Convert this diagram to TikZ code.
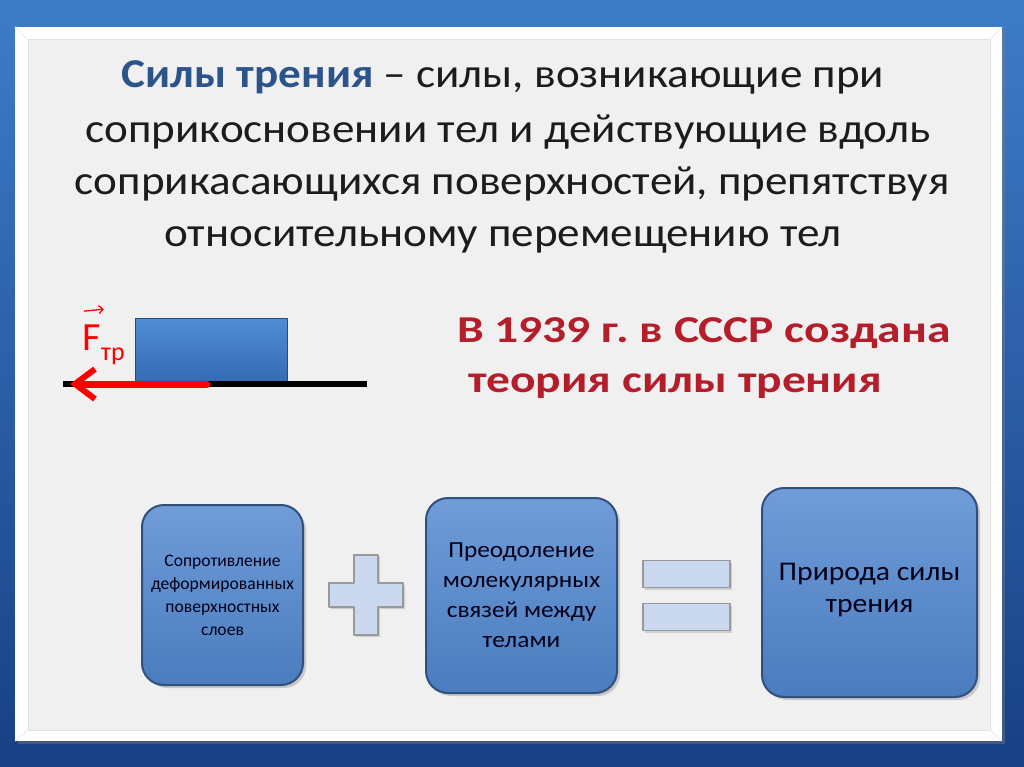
\documentclass[tikz,border=0pt]{standalone}
\usepackage{fontspec}
\setmainfont{Carlito}[FakeStretch=1.1]
\newfontfamily\notefont{Carlito}[FakeStretch=1.25]
\newfontfamily\plainfont{Carlito}
\usetikzlibrary{arrows.meta,positioning,shadows,calc}
\frenchspacing

\definecolor{skyblue}{RGB}{62,124,200}
\definecolor{deepblue}{RGB}{24,64,132}
\definecolor{panelgray}{RGB}{240,240,240}
\definecolor{textgray}{RGB}{28,28,28}
\definecolor{titleblue}{RGB}{42,84,138}
\definecolor{notered}{RGB}{180,30,42}
\definecolor{boxtop}{RGB}{112,156,216}
\definecolor{boxbot}{RGB}{74,124,190}
\definecolor{boxedge}{RGB}{48,80,126}
\definecolor{signfill}{RGB}{202,216,240}
\definecolor{blocktop}{RGB}{80,140,210}
\definecolor{blockbot}{RGB}{52,108,180}

\begin{document}
\begin{tikzpicture}[x=1pt,y=-1pt,
    line join=round,
    bodytext/.style={anchor=base, inner sep=0pt, text=textgray, font=\fontsize{41}{53}\selectfont},
    notetext/.style={anchor=base west, inner sep=0pt, text=notered, font=\notefont\fontsize{38}{50}\selectfont\bfseries},
    sumbox/.style={rounded corners=22pt, draw=boxedge, line width=2pt, top color=boxtop, bottom color=boxbot,
      drop shadow={opacity=0.35, shadow xshift=3pt, shadow yshift=-3pt}, align=center, text=black!90!blue},
    sign/.style={fill=signfill, draw=black!40, line width=1.2pt, drop shadow={opacity=0.3, shadow xshift=2pt, shadow yshift=-2pt}},
    signbar/.style={sign, minimum width=87pt, minimum height=27pt, inner sep=0pt},
    tblock/.style={draw=blockbot!70!black, line width=0.8pt, top color=blocktop, bottom color=blockbot,
      minimum width=152pt, minimum height=63pt, inner sep=0pt},
    ground/.style={line width=6pt, black},
    force/.style={line width=7pt, red, line cap=round, -{Straight Barb[length=20pt, width=30pt, line width=6pt]}},
    vecarrow/.style={line width=1.3pt, red, -{Straight Barb[length=4pt, width=8pt]}}
  ]
  \useasboundingbox (0,0) rectangle (1024,767);
  % background and panel
  \shade[top color=skyblue, bottom color=deepblue] (0,0) rectangle (1024,767);
  \fill[white, drop shadow={opacity=0.4, shadow xshift=3pt, shadow yshift=-3pt}] (15,27) rectangle (1002,741);
  \fill[panelgray] (28,40) rectangle (990,730);
  \draw[black!12, line width=1pt] (28,40) rectangle (990,730);
  \draw[black!8, line width=1pt] (15,27) -- (28,40) (1002,27) -- (990,40) (15,741) -- (28,730) (1002,741) -- (990,730);

  % definition
  \node[bodytext] (title1) at (503,88) {{\color{titleblue}\bfseries Силы трения} – силы, возникающие при};
  \node[bodytext] (title2) at (508,143) {соприкосновении тел и действующие вдоль};
  \node[bodytext] (title3) at (512,195) {соприкасающихся поверхностей, препятствуя};
  \node[bodytext] (title4) at (503,247) {относительному перемещению тел};

  % block on the surface
  \coordinate (gl) at (63,384);
  \coordinate (gr) at (367,384);
  \node[tblock] (block) at (211,350) {};
  \draw[ground] (gl) -- (gr);
  \coordinate (fs) at (207,384);
  \coordinate (fe) at (70,384);
  \draw[force] (fs) -- (fe);
  \node[anchor=base west, inner sep=0pt, text=red, font=\plainfont\fontsize{40}{40}\selectfont] (F) at (82,350) {F};
  \node[anchor=base west, inner sep=0pt, text=red, font=\plainfont\fontsize{26}{26}\selectfont] (Fsub) at ([yshift=-10pt]F.base east) {тр};
  \draw[vecarrow] ($(F.north west)+(2,-13)$) -- ($(F.north east)+(3,-15)$);

  % 1939 note
  \node[notetext] (note1) at (457,342) {В 1939 г. в СССР создана};
  \node[notetext] (note2) at (468,392) {теория силы трения};

  % sum of causes
  \node[sumbox, minimum width=161pt, minimum height=180pt, font=\plainfont\fontsize{17.6}{23}\selectfont] (box1) at (222.5,595)
    {Сопротивление\\деформированных\\поверхностных\\слоев};
  \draw[sign, shift={(366,595)}] (-12,-40) -- (12,-40) -- (12,-12) -- (37,-12) -- (37,12) -- (12,12)
    -- (12,40) -- (-12,40) -- (-12,12) -- (-37,12) -- (-37,-12) -- (-12,-12) -- cycle;
  \node[sumbox, minimum width=191pt, minimum height=195pt, font=\fontsize{23}{30}\selectfont] (box2) at (521.5,595.5)
    {Преодоление\\молекулярных\\связей между\\телами};
  \node[signbar] (eqtop) at (686.5,574) {};
  \node[signbar, below=15pt of eqtop] (eqbot) {};
  \node[sumbox, minimum width=215pt, minimum height=209pt, font=\fontsize{27}{32}\selectfont] (box3) at (869.5,592.5)
    {\rule{0pt}{0pt}\\[-20pt]Природа силы\\трения};
\end{tikzpicture}
\end{document}
